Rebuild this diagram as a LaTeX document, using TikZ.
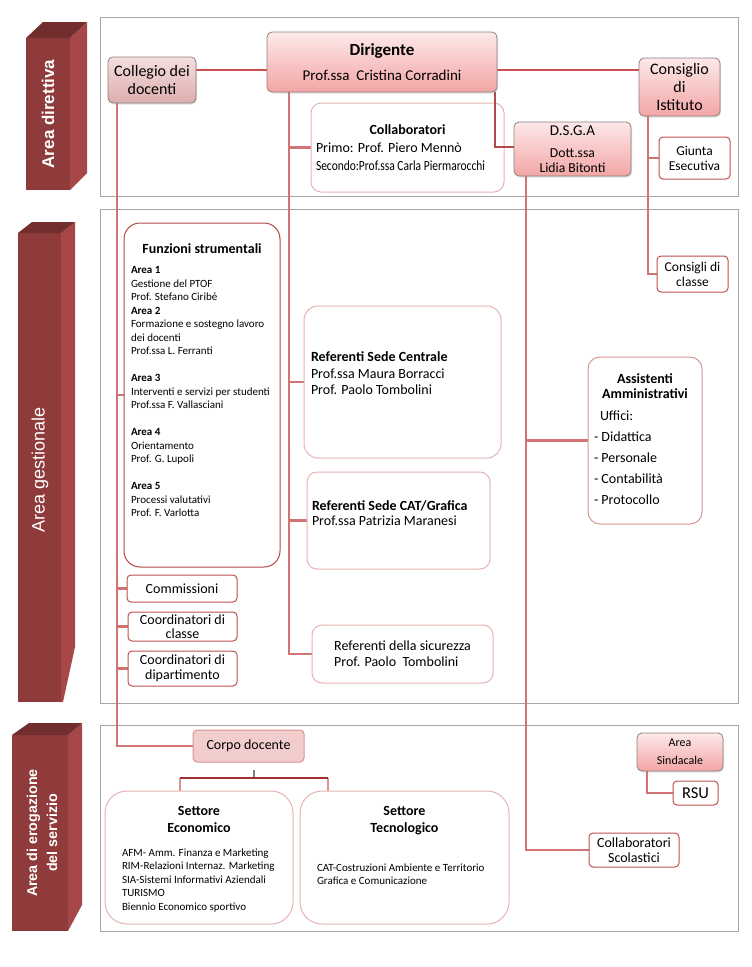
\documentclass[tikz,border=0pt]{standalone}
\usepackage{fontspec}
\setmainfont{Carlito}
\newfontfamily\arialf{Liberation Sans}
\usetikzlibrary{calc,shadows}
\newcommand{\myfs}[2]{\fontsize{#1}{#2}\selectfont}
\definecolor{barF}{HTML}{8F3B3B}
\definecolor{barS}{HTML}{A84747}
\definecolor{barT}{HTML}{722E2E}
\definecolor{panelc}{HTML}{A6A6A6}
\definecolor{trunkc}{HTML}{D27474}
\definecolor{linec}{HTML}{C8504F}
\definecolor{gtop}{HTML}{FDE9E9}
\definecolor{gbot}{HTML}{F3A5A5}
\definecolor{ctop}{HTML}{F5DEDE}
\definecolor{cbot}{HTML}{DDADAD}
\definecolor{gbord}{HTML}{8E7F7F}
\definecolor{redb}{HTML}{C0504D}
\definecolor{funzb}{HTML}{B04848}
\definecolor{pinkb}{HTML}{E6B3B3}
\definecolor{corpof}{HTML}{F2CDCD}
\definecolor{corpob}{HTML}{D99494}
\definecolor{barc}{HTML}{A32E2E}
\definecolor{stubc}{HTML}{7F7F7F}
\tikzset{
  panel/.style={draw=panelc, line width=1pt},
  gbox/.style={draw=gbord, line width=0.8pt, rounded corners=5pt, top color=gtop, bottom color=gbot, align=center,
    drop shadow={shadow xshift=1pt, shadow yshift=-1.5pt, opacity=0.25}},
  cbox/.style={gbox, top color=ctop, bottom color=cbot},
  rbox/.style={draw=redb, fill=white, line width=1pt, rounded corners=4pt, align=center},
  pbox/.style={draw=pinkb, fill=white, line width=1pt, rounded corners=10pt, align=center},
  funzbox/.style={draw=funzb, fill=white, line width=1pt, rounded corners=16pt},
  corpobox/.style={draw=corpob, fill=corpof, line width=1pt, rounded corners=4pt, align=center},
  trunk/.style={draw=trunkc, line width=2.6pt},
  thinline/.style={draw=linec, line width=1.3pt},
  bartext/.style={rotate=90, text=white, align=center},
}
\begin{document}
\begin{tikzpicture}[x=1pt,y=-1pt, every node/.style={inner sep=0pt, outer sep=0pt}]
\useasboundingbox (0,0) rectangle (752,967);
\fill[white] (0,0) rectangle (752,967);

% area bars
\fill[barF] (26,38) rectangle (70,190);
\fill[barS] (70,38) -- (87,22) -- (87,173) -- (70,190) -- cycle;
\fill[barT] (26,38) -- (43,22) -- (87,22) -- (70,38) -- cycle;
\node[bartext, font=\arialf\bfseries\myfs{17}{20}] (bar1) at (48,114) {Area direttiva};

\fill[barF] (18,233) rectangle (61,702);
\fill[barS] (61,233) -- (75,222) -- (75,647) -- (63,702) -- (61,702) -- cycle;
\fill[barT] (18,233) -- (32,222) -- (75,222) -- (61,233) -- cycle;
\node[bartext, font=\arialf\myfs{18}{20}] (bar2) at (40,470) {Area gestionale};

\fill[barF] (12,735) rectangle (68,931);
\fill[barS] (68,735) -- (82,723) -- (82,905) -- (68,931) -- cycle;
\fill[barT] (12,735) -- (29,723) -- (82,723) -- (68,735) -- cycle;
\node[bartext, font=\arialf\bfseries\myfs{14.3}{20}] (bar3) at (42,833) {Area di erogazione\\del servizio};

% panels
\draw[panel] (100,17) rectangle (738,196);
\draw[panel] (100,209) rectangle (738,703);
\draw[panel] (100,725) rectangle (738,931);

% coordinates of the connector trunks
\coordinate (collTop) at (117,103);
\coordinate (dirTop) at (289,92);
\coordinate (dsgaLink) at (495,92);
\coordinate (dsgaTop) at (526,176);
\coordinate (consTop) at (648,116);
\coordinate (sindTop) at (647,771);
\coordinate (stubTop) at (254,770);
\coordinate (barL) at (180,778);
\coordinate (barR) at (328,778);

% ---------- connectors (drawn before boxes) ----------
% Collegio - Dirigente - Consiglio
\draw[thinline] (196,70) coordinate (cd1) -- (267,70) coordinate (cd2);
\draw[thinline] (497,70) coordinate (dc1) -- (639,70) coordinate (dc2);
% Collegio trunk
\draw[trunk] (collTop) |- (193,746) coordinate (corpoW);
\draw[trunk] (117,395) -- (124,395) coordinate (funzW);
\draw[trunk] (117,588.5) -- (127,588.5) coordinate (commW);
\draw[trunk] (117,626.5) -- (128,626.5) coordinate (cclaW);
\draw[trunk] (117,668.5) -- (128,668.5) coordinate (cdipW);
% Dirigente trunk
\draw[trunk] (dirTop) |- (312,654) coordinate (sicW);
\draw[trunk] (289,147.5) -- (311,147.5) coordinate (collabW);
\draw[trunk] (289,382) -- (304,382) coordinate (refcW);
\draw[trunk] (289,520.5) -- (307,520.5) coordinate (refcatW);
% DSGA trunk
\draw[trunk] (dsgaTop) |- (589,850) coordinate (cscolW);
\draw[trunk] (526,440.5) -- (588,440.5) coordinate (assistW);
% Consiglio trunk
\draw[trunk] (consTop) |- (657,274) coordinate (cclW);
\draw[trunk] (648,158) -- (659,158) coordinate (giuntaW);
% Area Sindacale - RSU
\draw[trunk] (sindTop) |- (673,793) coordinate (rsuW);
% Corpo docente - settori
\draw[draw=stubc, line width=1.6pt] (stubTop) -- (254,778);
\draw[draw=corpob, line width=2pt] (barL) -- (180,791) coordinate (ecoN);
\draw[draw=corpob, line width=2pt] (barR) -- (328,791) coordinate (tecN);
\draw[draw=barc, line width=1.2pt] (barL) -- (barR);

% ---------- boxes ----------
\node[cbox, minimum width=88, minimum height=46, font=\myfs{16}{18.5}] (coll) at (152,80) {Collegio dei\\docenti};
\node[pbox, minimum width=193, minimum height=89] (collab) at (407.5,147.5) {};
% Dirigente - DSGA link (over the Collaboratori box)
\draw[draw=linec!90!black, line width=1.5pt] (dsgaLink) |- (514,147) coordinate (dsgaW);
\node[gbox, minimum width=230, minimum height=60, font=\myfs{15}{25}] (dir) at (382,62) {{\bfseries\myfs{17}{20}Dirigente}\\Prof.ssa~~Cristina Corradini};
\node[gbox, minimum width=81, minimum height=58, font=\myfs{16}{18.3}] (cons) at (679.5,87) {Consiglio\\di\\Istituto};
\node[gbox, minimum width=117, minimum height=54, font=\myfs{13.7}{15}] (dsga) at (572.5,149) {{\myfs{15}{15}D.S.G.A}\\[7pt]Dott.ssa\\Lidia Bitonti};
\node[rbox, minimum width=71, minimum height=42, font=\myfs{13.5}{15}] (giunta) at (694.5,158) {Giunta\\Esecutiva};
\node[rbox, minimum width=71, minimum height=36, font=\myfs{13.5}{15}] (ccl) at (692.5,274) {Consigli di\\classe};
\node[funzbox, minimum width=156, minimum height=344] (funz) at (202,395) {};
\node[rbox, minimum width=110, minimum height=27, font=\myfs{14}{15}] (comm) at (182,588.5) {Commissioni};
\node[rbox, minimum width=109, minimum height=29, font=\myfs{14}{14}] (ccla) at (182.5,626.5) {Coordinatori di\\classe};
\node[rbox, minimum width=109, minimum height=35, font=\myfs{14}{15}] (cdip) at (182.5,668.5) {Coordinatori di\\dipartimento};
\node[pbox, minimum width=197, minimum height=152, rounded corners=14pt] (refc) at (402.5,382) {};
\node[pbox, minimum width=183, minimum height=97] (refcat) at (398.5,520.5) {};
\node[pbox, draw=redb!60, minimum width=114, minimum height=167, rounded corners=12pt] (assist) at (645,440.5) {};
\node[pbox, align=left, minimum width=181, minimum height=58, font=\myfs{14}{16}] (sic) at (402.5,654) {Referenti della sicurezza\\Prof. Paolo~~Tombolini};
\node[corpobox, minimum width=111, minimum height=32, font=\myfs{14}{16}] (corpo) at (248.5,746) {Corpo docente};
\node[pbox, minimum width=188, minimum height=133, rounded corners=22pt] (eco) at (199,857.5) {};
\node[pbox, minimum width=209, minimum height=133, rounded corners=22pt] (tec) at (404.5,857.5) {};
\node[gbox, minimum width=86, minimum height=38, font=\myfs{12}{18}] (sind) at (680,752) {Area\\Sindacale};
\node[rbox, minimum width=45, minimum height=24, font=\myfs{16.5}{18}] (rsu) at (695.5,793) {RSU};
\node[rbox, minimum width=90, minimum height=34, font=\myfs{14}{15}] (cscol) at (634,850) {Collaboratori\\Scolastici};

% ---------- texts inside the larger boxes ----------
\node[font=\bfseries\myfs{14}{16}] (collabT) at (407.5,130) {Collaboratori};
\node[anchor=west, font=\myfs{14}{16}] (collabA) at (316,148) {Primo: Prof. Piero Mennò};
\node[anchor=west, font=\myfs{14}{16}] (collabB) at (316,166) {\scalebox{0.82}[1]{Secondo:Prof.ssa Carla Piermarocchi}};

\node[font=\bfseries\myfs{14}{16}] (funzT) at (202,249) {Funzioni strumentali};
\node[anchor=north west, align=left, font=\myfs{11}{13.5}] (funzB) at (131,266.5) {%
\textbf{Area 1}\\Gestione del PTOF\\Prof. Stefano Ciribé\\
\textbf{Area 2}\\Formazione e sostegno lavoro\\dei docenti\\Prof.ssa L. Ferranti\\[13.5pt]
\textbf{Area 3}\\Interventi e servizi per studenti\\Prof.ssa F. Vallasciani\\[13.5pt]
\textbf{Area 4}\\Orientamento\\Prof. G. Lupoli\\[13.5pt]
\textbf{Area 5}\\Processi valutativi\\Prof. F. Varlotta};

\node[anchor=north west, align=left, font=\myfs{14}{16.5}] (refcT) at (311,351.7) {\textbf{Referenti Sede Centrale}\\Prof.ssa Maura Borracci\\Prof. Paolo Tombolini};
\node[anchor=north west, align=left, font=\myfs{14}{15.3}] (refcatT) at (312,500.7) {\textbf{Referenti Sede CAT/Grafica}\\Prof.ssa Patrizia Maranesi};

\node[align=center, font=\bfseries\myfs{14}{15}] (assistT) at (645,386.5) {Assistenti\\Amministrativi};
\node[anchor=north west, align=left, font=\myfs{14}{21}] (assistB) at (594,410.7) {\hspace*{6pt}Uffici:\\- Didattica\\- Personale\\- Contabilità\\- Protocollo};

\node[align=center, font=\bfseries\myfs{14}{17}] (ecoT) at (199,819.5) {Settore\\Economico};
\node[anchor=north west, align=left, font=\myfs{11}{13.5}] (ecoB) at (122,848.5) {AFM- Amm. Finanza e Marketing\\RIM-Relazioni Internaz. Marketing\\SIA-Sistemi Informativi Aziendali\\TURISMO\\Biennio Economico sportivo};
\node[align=center, font=\bfseries\myfs{14}{17}] (tecT) at (404.5,821) {Settore\\Tecnologico};
\node[anchor=north west, align=left, font=\myfs{11}{13.5}] (tecB) at (317,863.5) {CAT-Costruzioni Ambiente e Territorio\\Grafica e Comunicazione};
\end{tikzpicture}
\end{document}
